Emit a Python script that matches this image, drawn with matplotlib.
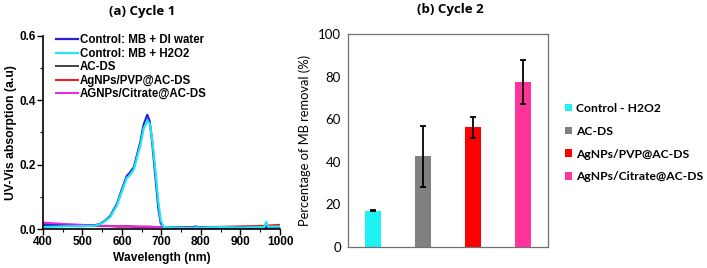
import matplotlib
matplotlib.use("Agg")
import matplotlib.pyplot as plt
from matplotlib.ticker import MultipleLocator, FormatStrFormatter

# ---- Panel (a) data ----
wl = [400, 450, 500, 530, 545, 555, 570, 587, 600, 612, 620, 630, 646, 655, 664, 670, 676, 684, 692, 698, 705, 750, 780, 785, 800, 850, 900, 960, 965, 970, 1000]
mb_di = [0.012, 0.010, 0.009, 0.011, 0.016, 0.024, 0.040, 0.078, 0.124, 0.165, 0.175, 0.192, 0.268, 0.325, 0.355, 0.335, 0.275, 0.170, 0.065, 0.018, 0.006, 0.004, 0.004, 0.008, 0.004, 0.005, 0.004, 0.005, 0.005, 0.005, 0.006]
mb_h2o2 = [0.006, 0.008, 0.009, 0.010, 0.015, 0.022, 0.037, 0.073, 0.118, 0.158, 0.168, 0.185, 0.258, 0.312, 0.337, 0.328, 0.285, 0.190, 0.085, 0.028, 0.006, 0.004, 0.003, 0.005, 0.004, 0.006, 0.004, 0.006, 0.022, 0.007, 0.008]
ac_ds = [0.014, 0.012, 0.011, 0.010, 0.009, 0.009, 0.009, 0.008, 0.008, 0.008, 0.008, 0.007, 0.007, 0.007, 0.007, 0.007, 0.007, 0.006, 0.006, 0.006, 0.006, 0.005, 0.005, 0.005, 0.005, 0.005, 0.006, 0.006, 0.006, 0.006, 0.007]
pvp = [0.015, 0.013, 0.011, 0.010, 0.009, 0.009, 0.009, 0.008, 0.008, 0.008, 0.008, 0.007, 0.007, 0.007, 0.007, 0.007, 0.006, 0.006, 0.006, 0.006, 0.006, 0.006, 0.006, 0.006, 0.006, 0.007, 0.008, 0.010, 0.011, 0.011, 0.013]
citrate = [0.020, 0.016, 0.013, 0.011, 0.010, 0.010, 0.009, 0.009, 0.008, 0.008, 0.008, 0.008, 0.007, 0.007, 0.007, 0.007, 0.007, 0.006, 0.006, 0.006, 0.006, 0.005, 0.005, 0.005, 0.005, 0.005, 0.005, 0.006, 0.006, 0.006, 0.007]
line_labels = ["Control: MB + DI water", "Control: MB + H2O2", "AC-DS", "AgNPs/PVP@AC-DS", "AGNPs/Citrate@AC-DS"]
line_colors = ["#2323d8", "#22e6ee", "#404040", "#ff1010", "#ee22ee"]
x_ticks = [400, 500, 600, 700, 800, 900, 1000]

# ---- Panel (b) data ----
bar_labels = ["Control - H2O2", "AC-DS", "AgNPs/PVP@AC-DS", "AgNPs/Citrate@AC-DS"]
removal = [17.0, 42.5, 56.2, 77.5]
removal_err = [0.3, 14.3, 4.8, 10.5]
bar_colors = ["#1ff2f2", "#808080", "#ff0000", "#ff3399"]
y_ticks_b = [0, 20, 40, 60, 80, 100]

fig = plt.figure(figsize=(7.07, 2.68), dpi=100)
W, H = 707, 268

# ---- Panel (a) ----
axa = fig.add_axes([43 / W, 1 - 229 / H, (280 - 43) / W, (229 - 36) / H])
all_series = [mb_di, mb_h2o2, ac_ds, pvp, citrate]
handles = {}
for idx in [3, 2, 4, 0, 1]:
    lw = 1.6 if idx in (0, 1) else 1.4
    h, = axa.plot(wl, all_series[idx], color=line_colors[idx], lw=lw, label=line_labels[idx])
    handles[idx] = h
axa.set_xlim(400, 1000)
axa.set_ylim(0, 0.6)
axa.set_xticks(x_ticks)
axa.set_xticklabels([str(v) for v in x_ticks])
axa.xaxis.set_minor_locator(MultipleLocator(50))
axa.yaxis.set_major_locator(MultipleLocator(0.2))
axa.yaxis.set_minor_locator(MultipleLocator(0.1))
axa.yaxis.set_major_formatter(FormatStrFormatter("%.1f"))
for s in ["top", "right"]:
    axa.spines[s].set_visible(False)
for s in ["left", "bottom"]:
    axa.spines[s].set_linewidth(1.2)
axa.tick_params(which="major", direction="out", length=4, width=1.0, labelsize=8.5, pad=1)
axa.tick_params(which="minor", direction="out", length=2.5, width=0.8)
for t in axa.get_xticklabels() + axa.get_yticklabels():
    t.set_fontweight("bold")
    t.set_family("Liberation Sans")
axa.set_xlabel("Wavelength (nm)", fontsize=8.7, fontweight="bold", family="Liberation Sans", labelpad=3)
axa.set_ylabel("UV-Vis absorption (a.u)", fontsize=8.8, fontweight="bold", family="Liberation Sans", labelpad=2)
axa.legend([handles[i] for i in range(5)], line_labels, loc="upper left", bbox_to_anchor=(0.02, 1.05),
           frameon=False, prop={"family": "Liberation Sans", "weight": "bold", "size": 8.3},
           handlelength=1.9, handletextpad=0.2, labelspacing=0.12, borderpad=0.2)
fig.text(142 / W, 1 - 11 / H, "(a) Cycle 1", ha="center", va="center", fontsize=9.5, fontweight="bold", family="Open Sans")

# ---- Panel (b) ----
axb = fig.add_axes([348 / W, 1 - 247 / H, (548 - 348) / W, (247 - 34) / H])
x = range(len(bar_labels))
bars = axb.bar(x, removal, width=0.32, color=bar_colors, yerr=removal_err,
               error_kw=dict(ecolor="black", elinewidth=1.3, capsize=2.5, capthick=1.3))
axb.set_xlim(-0.5, 3.5)
axb.set_ylim(0, 100)
axb.set_yticks(y_ticks_b)
axb.set_xticks([])
axb.tick_params(axis="y", length=0, labelsize=9.5, pad=5)
for t in axb.get_yticklabels():
    t.set_family("Lato")
for s in axb.spines.values():
    s.set_color("#707070")
    s.set_linewidth(0.9)
axb.set_ylabel("Percentage of MB removal (%)", fontsize=9.3, family="Lato", labelpad=5)
axb.legend(bars.patches, bar_labels, loc="center left", bbox_to_anchor=(1.03, 0.49),
           frameon=False, prop={"family": "Lato", "weight": "bold", "size": 8.7},
           handlelength=0.6, handleheight=0.6, handletextpad=0.35, labelspacing=0.98)
fig.text(450 / W, 1 - 9 / H, "(b) Cycle 2", ha="center", va="center", fontsize=9.5, fontweight="bold", family="Open Sans")

fig.savefig("out.png", dpi=100)
